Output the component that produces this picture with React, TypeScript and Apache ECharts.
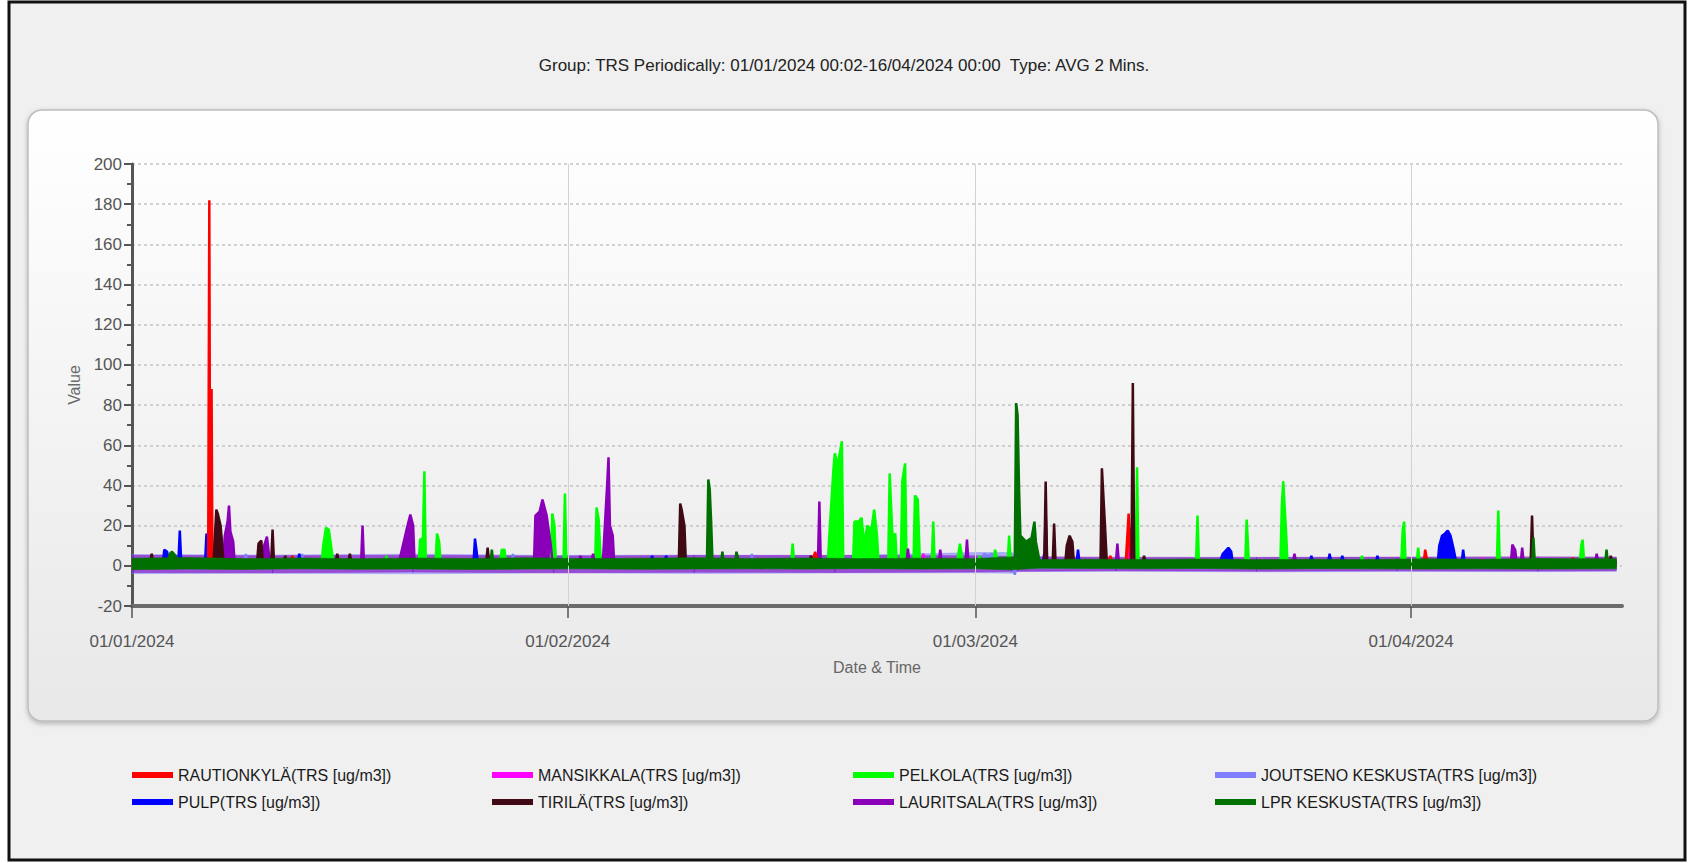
import React, { useEffect, useRef } from 'react';
import * as echarts from 'echarts';

const FONT = "'Liberation Sans', Arial, Helvetica, sans-serif";

const titleText = 'Group: TRS Periodically: 01/01/2024 00:02-16/04/2024 00:00  Type: AVG 2 Mins.';
const xAxisName = 'Date & Time';
const yAxisName = 'Value';

// x is "days since 01/01/2024 00:00"
const dayMax = 106;
const monthTickDays = [0, 31, 60, 91];
const monthTickLabels = ['01/01/2024', '01/02/2024', '01/03/2024', '01/04/2024'];

const NAME_RAUTIONKYLA = 'RAUTIONKYLÄ(TRS [ug/m3])';
const NAME_MANSIKKALA = 'MANSIKKALA(TRS [ug/m3])';
const NAME_PELKOLA = 'PELKOLA(TRS [ug/m3])';
const NAME_JOUTSENO = 'JOUTSENO KESKUSTA(TRS [ug/m3])';
const NAME_PULP = 'PULP(TRS [ug/m3])';
const NAME_TIRILA = 'TIRILÄ(TRS [ug/m3])';
const NAME_LAURITSALA = 'LAURITSALA(TRS [ug/m3])';
const NAME_LPR = 'LPR KESKUSTA(TRS [ug/m3])';

const rautionkyla: [number, number][] = [
  [0, 2], [5.42, 2], [5.5, 182], [5.56, 10], [5.66, 88], [5.72, 6], [5.8, 2],
  [11.3, 2], [11.4, 5], [11.5, 2], [48.4, 2], [48.6, 7], [48.8, 2],
  [69.5, 2], [69.6, 5], [69.7, 2], [70.7, 2], [70.9, 26], [71.05, 2],
  [91.9, 2], [92.0, 8], [92.15, 2], [102.4, 2], [102.5, 4], [102.6, 2], [105.6, 2],
];

const mansikkala: [number, number][] = [
  [0, 1], [56.2, 1], [56.3, 6], [56.4, 1], [70.9, 1], [71.0, 10], [71.1, 1],
  [96, 1], [96.1, 4], [96.2, 1], [105.6, 1],
];

const pelkola: [number, number][] = [
  [0, 2],
  [13.5, 2], [13.6, 10], [13.8, 19], [14.0, 18], [14.2, 8], [14.3, 2],
  [18.0, 2], [18.1, 5], [18.2, 2],
  [20.4, 2], [20.5, 13], [20.7, 14], [20.8, 47], [20.9, 2],
  [21.6, 2], [21.7, 16], [21.85, 12], [21.95, 2],
  [26.2, 2], [26.3, 8], [26.5, 8], [26.6, 2],
  [29.8, 2], [29.9, 26], [30.05, 20], [30.15, 2],
  [30.7, 2], [30.8, 36], [30.9, 2],
  [32.95, 2], [33.05, 29], [33.2, 23], [33.35, 2],
  [46.9, 2], [47.0, 11], [47.1, 2],
  [49.5, 2], [49.6, 14], [49.9, 48], [50.0, 56], [50.2, 50], [50.5, 62], [50.6, 2],
  [51.3, 2], [51.4, 22], [51.7, 22], [51.9, 24], [52.1, 10], [52.3, 20], [52.6, 18], [52.8, 28], [53.0, 15], [53.1, 2],
  [53.8, 2], [53.9, 46], [54.0, 30], [54.1, 15], [54.3, 16], [54.4, 2],
  [54.7, 2], [54.8, 42], [55.0, 51], [55.1, 2],
  [55.6, 2], [55.7, 35], [55.9, 33], [56.05, 2],
  [56.9, 2], [57.0, 22], [57.1, 2],
  [58.7, 2], [58.9, 11], [59.1, 2],
  [60.2, 2], [60.3, 5], [60.4, 2],
  [61.3, 2], [61.4, 8], [61.6, 2],
  [62.3, 2], [62.4, 15], [62.5, 2],
  [71.4, 2], [71.5, 49], [71.6, 2],
  [75.7, 2], [75.8, 25], [75.9, 2],
  [79.2, 2], [79.3, 23], [79.45, 2],
  [81.7, 2], [81.8, 30], [81.9, 42], [82.1, 17], [82.2, 2],
  [87.4, 2], [87.5, 5], [87.6, 2],
  [90.3, 2], [90.4, 18], [90.5, 22], [90.6, 2],
  [91.4, 2], [91.5, 9], [91.6, 2],
  [97.1, 2], [97.2, 27.5], [97.3, 2],
  [103.0, 2], [103.1, 10], [103.2, 13], [103.3, 2],
  [105.6, 2],
];

const joutseno: [number, number][] = [
  [0, -1], [8.0, -1], [8.1, 6], [8.2, -1], [12.0, -1], [12.1, 6], [12.2, -1], [27.0, -1], [27.1, 6], [27.2, -1],
  [44.0, -1], [44.1, 6], [44.2, -1],
  [60.5, -1], [60.6, 6], [60.9, 5], [61.2, 6], [61.5, -1],
  [62.7, -1], [62.8, -4.5], [62.9, -1], [105.6, -1],
];

const pulp: [number, number][] = [
  [0, 2],
  [2.2, 2], [2.3, 8], [2.5, 7], [2.6, 2],
  [3.3, 2], [3.4, 17.5], [3.5, 2],
  [5.2, 2], [5.3, 16], [5.4, 2],
  [11.8, 2], [11.9, 6], [12.0, 2],
  [24.3, 2], [24.4, 13.5], [24.5, 8], [24.6, 2],
  [36.9, 2], [37.0, 5], [37.1, 2],
  [37.9, 2], [38.0, 5], [38.1, 2],
  [64.8, 2], [64.9, 6], [65.0, 2],
  [67.2, 2], [67.3, 8], [67.4, 2],
  [77.4, 2], [77.6, 6], [78.0, 9], [78.2, 7], [78.3, 2],
  [83.8, 2], [83.9, 5], [84.0, 2],
  [85.1, 2], [85.2, 6], [85.3, 2],
  [86.0, 2], [86.1, 5], [86.2, 2],
  [88.5, 2], [88.6, 5], [88.7, 2],
  [92.9, 2], [93.0, 10], [93.2, 15], [93.4, 16], [93.6, 17.5], [93.8, 15], [94.0, 9], [94.2, 2],
  [94.6, 2], [94.7, 8], [94.8, 2],
  [105.6, 2],
];

const lauritsala: [number, number][] = [
  [0, 2],
  [6.5, 2], [6.6, 15], [6.8, 22], [6.9, 30], [7.0, 17], [7.2, 12], [7.3, 2],
  [9.3, 2], [9.4, 10], [9.6, 14.5], [9.8, 2],
  [16.3, 2], [16.4, 20], [16.5, 2],
  [19.0, 2], [19.2, 8], [19.5, 17], [19.8, 25.5], [20.0, 20], [20.1, 2],
  [28.6, 2], [28.7, 25], [29.0, 27], [29.2, 33], [29.5, 25], [29.8, 10], [29.9, 2],
  [31.8, 2], [31.9, 5], [32.0, 2],
  [32.7, 2], [32.8, 6], [32.9, 2],
  [33.5, 2], [33.6, 15], [33.8, 40], [33.9, 54], [34.0, 20], [34.2, 15], [34.3, 2],
  [48.8, 2], [48.9, 32], [49.0, 2],
  [55.1, 2], [55.2, 8.5], [55.3, 2],
  [57.4, 2], [57.5, 8], [57.6, 2],
  [59.3, 2], [59.4, 13], [59.5, 2],
  [64.9, 2], [65.0, 26], [65.1, 2],
  [70.0, 2], [70.1, 11], [70.2, 2],
  [71.0, 2], [71.1, 19], [71.2, 2],
  [82.6, 2], [82.7, 6], [82.8, 2],
  [98.1, 2], [98.2, 10.5], [98.4, 8], [98.5, 2],
  [98.8, 2], [98.9, 9], [99.0, 2],
  [104.1, 2], [104.2, 6], [104.3, 2],
  [105.6, 2],
];

const tirila: [number, number][] = [
  [0, 2],
  [1.3, 2], [1.4, 6], [1.5, 2],
  [5.8, 2], [5.9, 15], [6.0, 28], [6.1, 26], [6.3, 20], [6.4, 12], [6.5, 2],
  [8.9, 2], [9.0, 11], [9.2, 12.5], [9.3, 2],
  [9.9, 2], [10.0, 18], [10.1, 2],
  [10.8, 2], [10.9, 5], [11.0, 2],
  [14.5, 2], [14.6, 6], [14.7, 2],
  [15.4, 2], [15.5, 6], [15.6, 2],
  [25.2, 2], [25.3, 9], [25.4, 2],
  [38.9, 2], [39.0, 31], [39.1, 28], [39.3, 20], [39.4, 2],
  [48.2, 2], [48.3, 5], [48.4, 2],
  [64.9, 2], [65.0, 42], [65.1, 2],
  [65.5, 2], [65.6, 21], [65.7, 2],
  [66.4, 2], [66.5, 10], [66.7, 15], [66.9, 12], [67.0, 2],
  [68.9, 2], [69.0, 48.5], [69.2, 22.5], [69.35, 2],
  [71.1, 2], [71.2, 91], [71.3, 2],
  [71.9, 2], [72.0, 5], [72.1, 2],
  [99.5, 2], [99.6, 25], [99.7, 2],
  [105.1, 2], [105.2, 5], [105.3, 2],
  [105.6, 2],
];

const lprKeskusta: [number, number][] = [
  [0, 1],
  [2.5, 1], [2.7, 6], [2.85, 7], [3.1, 5], [3.2, 1],
  [25.5, 1], [25.6, 8], [25.7, 1],
  [40.9, 1], [41.0, 43], [41.1, 38], [41.2, 22], [41.3, 1],
  [41.9, 1], [42.0, 7], [42.1, 1],
  [42.9, 1], [43.0, 7], [43.2, 1],
  [62.8, 1], [62.9, 81], [63.0, 75], [63.1, 40], [63.2, 15], [63.6, 12], [64.0, 14], [64.2, 22], [64.3, 12], [64.6, 1],
  [99.6, 1], [99.7, 14], [99.8, 1],
  [104.8, 1], [104.9, 8], [105.0, 1],
  [105.6, 1],
];

// Dense 2-minute noise band read as low/high envelopes
const lprBandDays = [0, 4, 8, 12, 16, 20, 24, 28, 32, 36, 40, 44, 48, 52, 56, 60, 62.5, 64.5, 68, 72, 76, 80, 84, 88, 92, 96, 100, 105.6];
const lprBandLow = [-1.9, -1.6, -1.8, -1.5, -1.7, -1.6, -1.8, -1.6, -1.5, -1.7, -1.6, -1.5, -1.6, -1.4, -1.6, -1.5, -2.0, -1.2, -1.3, -1.5, -1.3, -1.6, -1.4, -1.5, -1.6, -1.5, -1.6, -1.5];
const lprBandHigh = [3.8, 4.1, 3.6, 3.9, 3.5, 3.9, 3.7, 4.0, 3.6, 3.8, 4.0, 3.7, 3.9, 3.6, 3.8, 3.7, 4.4, 3.1, 3.3, 3.2, 3.4, 3.1, 3.3, 3.2, 3.5, 3.3, 3.6, 3.5];

const lauritsalaBandDays = [0, 10, 20, 30, 40, 50, 60, 63, 70, 80, 90, 100, 105.6];
const lauritsalaBandLow = [-3.3, -3.5, -3.1, -3.5, -3.2, -3.3, -3.1, -2.7, -2.5, -2.7, -2.5, -2.6, -2.5];
const lauritsalaBandHigh = [5.2, 5.0, 5.3, 4.9, 5.1, 5.2, 5.0, 4.6, 4.3, 4.2, 4.4, 4.5, 4.4];

const joutsenoBandDays = [0, 10, 20, 30, 40, 50, 60, 62.6, 63, 70, 80, 90, 100, 105.6];
const joutsenoBandLow = [-3.9, -3.7, -4.0, -3.5, -3.8, -3.6, -3.5, -3.7, -2.9, -2.7, -3.0, -2.8, -2.9, -2.7];
const joutsenoBandHigh = [5.6, 5.4, 5.8, 5.2, 5.4, 5.1, 6.6, 6.6, 4.2, 4.0, 4.2, 4.1, 4.0, 4.1];

const COLORS: Record<string, string> = {
  [NAME_RAUTIONKYLA]: '#ff0000',
  [NAME_MANSIKKALA]: '#ff00ff',
  [NAME_PELKOLA]: '#00ff00',
  [NAME_JOUTSENO]: '#8080ff',
  [NAME_PULP]: '#0000ff',
  [NAME_TIRILA]: '#3f0a14',
  [NAME_LAURITSALA]: '#8a00b8',
  [NAME_LPR]: '#007000',
};

const legendColumns = [
  [NAME_RAUTIONKYLA, NAME_PULP],
  [NAME_MANSIKKALA, NAME_TIRILA],
  [NAME_PELKOLA, NAME_LAURITSALA],
  [NAME_JOUTSENO, NAME_LPR],
];
const legendLeft = [127, 487, 848, 1210];

function lineSeries(name: string, data: [number, number][], z: number) {
  const color = COLORS[name];
  return {
    type: 'line',
    name,
    data,
    z,
    symbol: 'none',
    showSymbol: false,
    smooth: false,
    silent: true,
    color,
    lineStyle: { color, width: 2.5 },
    itemStyle: { color },
    areaStyle: { color, opacity: 1 },
  };
}

function bandSeries(id: string, days: number[], low: number[], high: number[], color: string, opacity: number, z: number) {
  return {
    type: 'custom',
    name: id,
    z,
    silent: true,
    clip: true,
    data: days.map((d, i) => [d, low[i], high[i]]),
    encode: { x: 0, y: [1, 2] },
    renderItem: (params: any, api: any) => {
      const i = params.dataIndex;
      if (i >= days.length - 1) return null;
      const p1 = api.coord([days[i], low[i]]);
      const p2 = api.coord([days[i], high[i]]);
      const p3 = api.coord([days[i + 1], high[i + 1]]);
      const p4 = api.coord([days[i + 1], low[i + 1]]);
      return {
        type: 'polygon',
        shape: { points: [p1, p2, p3, p4] },
        style: { fill: color, stroke: color, lineWidth: 0.6, opacity },
      };
    },
  };
}

export default function App() {
  const ref = useRef<HTMLDivElement>(null);

  useEffect(() => {
    document.body.style.margin = '0';
    if (!ref.current) return;
    const chart = echarts.init(ref.current, undefined, { renderer: 'svg' });

    const option: any = {
      animation: false,
      backgroundColor: '#ffffff',
      title: {
        text: titleText,
        left: 'center',
        top: 52,
        textStyle: { fontFamily: FONT, fontSize: 17, fontWeight: 'normal', color: '#222' },
      },
      graphic: [
        {
          type: 'rect',
          z: -20,
          silent: true,
          shape: { x: 9, y: 2, width: 1676, height: 858 },
          style: { fill: '#f0f0f0', stroke: '#111', lineWidth: 3 },
        },
        {
          type: 'rect',
          z: -19,
          silent: true,
          shape: { x: 28, y: 110, width: 1630, height: 611, r: 14 },
          style: {
            fill: new echarts.graphic.LinearGradient(0, 0, 0, 1, [
              { offset: 0, color: '#ffffff' },
              { offset: 1, color: '#e8e8e8' },
            ]),
            stroke: '#bdbdbd',
            lineWidth: 1.5,
            shadowBlur: 5,
            shadowColor: 'rgba(0,0,0,0.25)',
            shadowOffsetY: 2,
          },
        },
      ],
      legend: legendColumns.map((names, i) => ({
        orient: 'vertical',
        left: legendLeft[i],
        top: 761,
        data: names,
        icon: 'rect',
        itemWidth: 41,
        itemHeight: 6,
        itemGap: 9,
        selectedMode: false,
        textStyle: { fontFamily: FONT, fontSize: 16, color: '#1a1a1a', lineHeight: 18 },
      })),
      grid: { left: 132, right: 66, top: 164, bottom: 257, containLabel: false },
      xAxis: {
        type: 'value',
        min: 0,
        max: dayMax,
        name: xAxisName,
        nameLocation: 'middle',
        nameGap: 53,
        nameTextStyle: { fontFamily: FONT, fontSize: 16, color: '#666' },
        axisLine: { show: true, onZero: false, lineStyle: { color: '#6b6b6b', width: 4 } },
        axisTick: { show: true, customValues: monthTickDays, length: 12, lineStyle: { color: '#555', width: 1.5 } },
        axisLabel: {
          customValues: monthTickDays,
          formatter: (v: number) => {
            const idx = monthTickDays.indexOf(v);
            return idx >= 0 ? monthTickLabels[idx] : '';
          },
          fontFamily: FONT,
          fontSize: 17,
          color: '#555',
          margin: 27,
        },
        splitLine: { show: false },
      },
      yAxis: {
        type: 'value',
        min: -20,
        max: 200,
        interval: 20,
        name: yAxisName,
        nameLocation: 'middle',
        nameGap: 49,
        nameTextStyle: { fontFamily: FONT, fontSize: 16, color: '#6a6a6a' },
        axisLine: { show: true, lineStyle: { color: '#555', width: 3 } },
        axisTick: { show: true, length: 8, lineStyle: { color: '#555', width: 2 } },
        minorTick: { show: true, splitNumber: 2, length: 5, lineStyle: { color: '#555', width: 2 } },
        axisLabel: { fontFamily: FONT, fontSize: 17, color: '#555', margin: 10 },
        splitLine: { show: true, lineStyle: { color: '#c4c4c4', type: [3, 3], width: 1.5 } },
      },
      series: [
        {
          type: 'line',
          name: 'monthLines',
          data: [],
          silent: true,
          z: 1,
          markLine: {
            silent: true,
            symbol: ['none', 'none'],
            label: { show: false },
            lineStyle: { color: '#d2d2d2', width: 1, type: 'solid' },
            data: monthTickDays.slice(1).map((d) => ({ xAxis: d })),
          },
        },
        bandSeries('bandJoutseno', joutsenoBandDays, joutsenoBandLow, joutsenoBandHigh, COLORS[NAME_JOUTSENO], 0.6, 2),
        bandSeries('bandLauritsala', lauritsalaBandDays, lauritsalaBandLow, lauritsalaBandHigh, COLORS[NAME_LAURITSALA], 0.55, 2),
        lineSeries(NAME_MANSIKKALA, mansikkala, 3),
        lineSeries(NAME_JOUTSENO, joutseno, 3),
        lineSeries(NAME_PULP, pulp, 3),
        lineSeries(NAME_PELKOLA, pelkola, 3),
        lineSeries(NAME_LAURITSALA, lauritsala, 3),
        lineSeries(NAME_RAUTIONKYLA, rautionkyla, 3),
        lineSeries(NAME_TIRILA, tirila, 3),
        bandSeries('bandLpr', lprBandDays, lprBandLow, lprBandHigh, COLORS[NAME_LPR], 1, 4),
        lineSeries(NAME_LPR, lprKeskusta, 5),
      ],
    };

    chart.setOption(option);
    return () => chart.dispose();
  }, []);

  return <div ref={ref} style={{ width: 1688, height: 863 }} />;
}
